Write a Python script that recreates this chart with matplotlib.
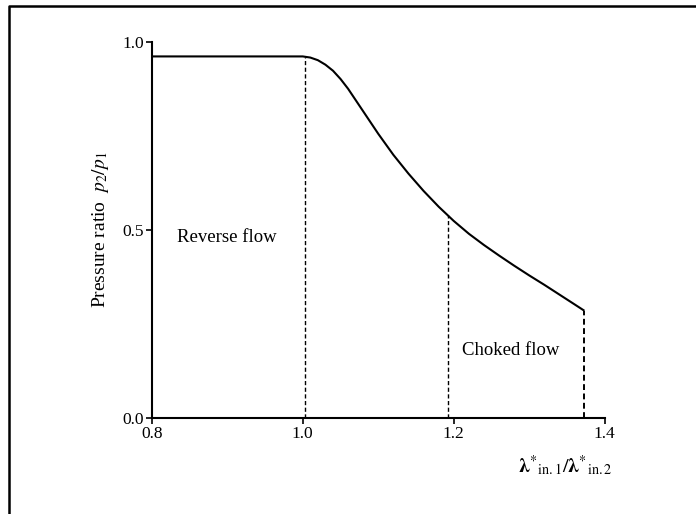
import numpy as np
import matplotlib.pyplot as plt
from matplotlib.lines import Line2D

plt.rcParams['font.family'] = 'Liberation Serif'
plt.rcParams['mathtext.fontset'] = 'stix'

# curve
curve_x = [0.80, 1.00, 1.01, 1.02, 1.03, 1.04, 1.05, 1.06, 1.08, 1.10, 1.12, 1.14, 1.16,
           1.18, 1.20, 1.22, 1.24, 1.26, 1.28, 1.30, 1.32, 1.34, 1.36, 1.373]
curve_y = [0.962, 0.962, 0.959, 0.952, 0.940, 0.924, 0.902, 0.876, 0.816, 0.756, 0.700,
           0.650, 0.604, 0.562, 0.524, 0.490, 0.460, 0.432, 0.405, 0.379, 0.354, 0.328,
           0.302, 0.285]
boundary_x = [1.003, 1.192, 1.373]
x_ticks = [0.8, 1.0, 1.2, 1.4]
y_ticks = [0.0, 0.5, 1.0]
region_labels = ['Reverse flow', 'Choked flow']
region_pos = [(0.834, 0.48), (1.211, 0.18)]

fig = plt.figure(figsize=(6.96, 5.14), dpi=100)
ax = fig.add_axes([0.218, 0.187, 0.651, 0.731])

ax.plot(curve_x, curve_y, color='black', lw=1.5, solid_capstyle='butt',
        solid_joinstyle='round')
for i, bx in enumerate(boundary_x):
    top = np.interp(bx, curve_x, curve_y)
    ax.plot([bx, bx], [0, top], color='black', lw=1.0 if i < 2 else 1.4,
            dashes=(3.0, 1.8))

for lab, (tx, ty) in zip(region_labels, region_pos):
    ax.text(tx, ty, lab, fontsize=13.5, ha='left', va='center')

ax.set_xlim(0.8, 1.4)
ax.set_ylim(0.0, 1.0)
ax.set_xticks(x_ticks)
ax.set_xticklabels([f'{v:.1f}' for v in x_ticks])
ax.set_yticks(y_ticks)
ax.set_yticklabels([f'{v:.1f}' for v in y_ticks])
ax.tick_params(direction='out', length=4, width=1.2, labelsize=12.5, pad=1.5)
for s in ['top', 'right']:
    ax.spines[s].set_visible(False)
for s in ['left', 'bottom']:
    ax.spines[s].set_linewidth(1.5)

ax.set_ylabel(r'Pressure ratio  $p_2/p_1$', fontsize=14, labelpad=8)
fig.text(0.812, 0.095, r'$\mathbf{\lambda}^{*}{}_{\rm in.1}/\mathbf{\lambda}^{*}{}_{\rm in.2}$',
         fontsize=14.5, ha='center', va='center')

# partial frame of the scanned page (left and top edges)
fx = 8.5 / 696
fy = 1 - 5.5 / 514
fig.add_artist(Line2D([fx, fx, 1.0], [0.0, fy, fy], transform=fig.transFigure,
                      color='black', lw=1.8))

fig.savefig('out.png', dpi=100)
